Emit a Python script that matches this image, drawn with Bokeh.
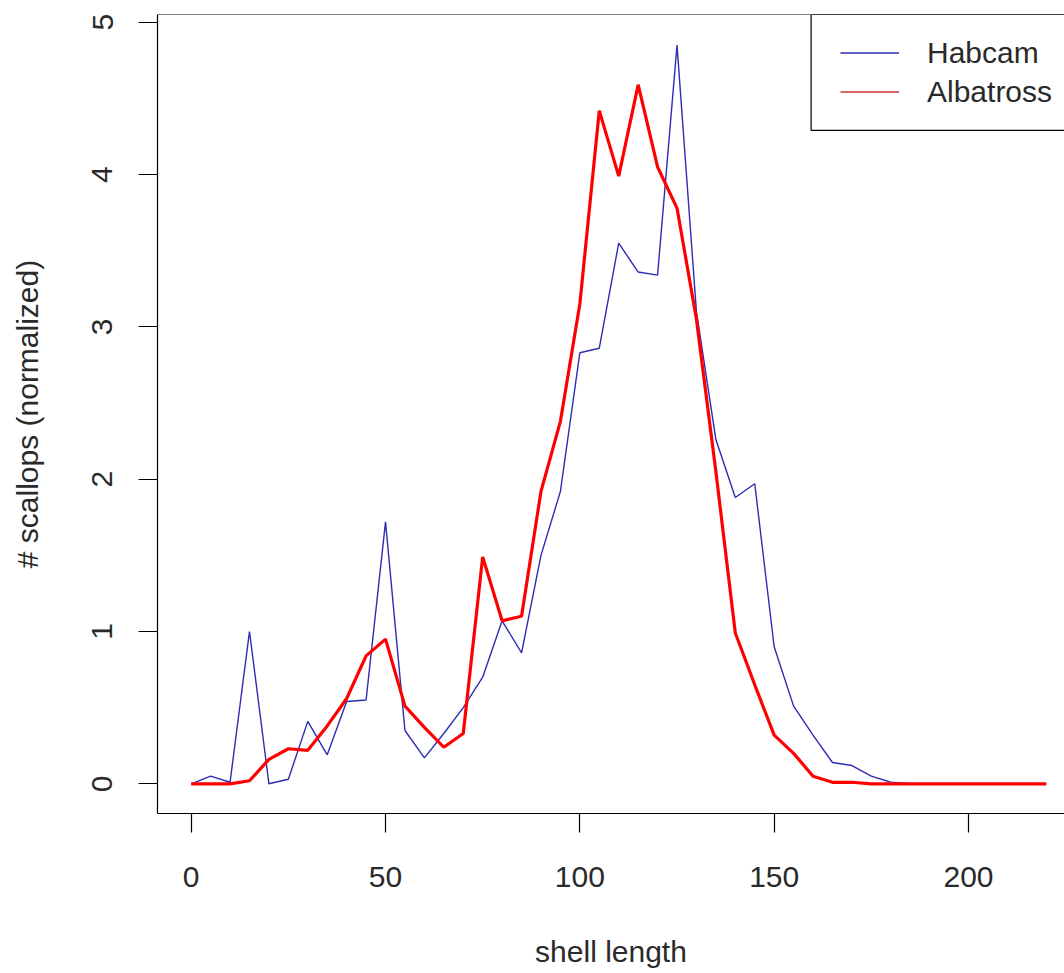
from bokeh.plotting import figure
from bokeh.models import Range1d, Span, BoxAnnotation, Legend, LegendItem, FixedTicker, ColumnDataSource
from bokeh.embed import file_html
from bokeh.resources import INLINE

# ---- data ----
shell_length = list(range(0, 225, 5))
habcam = [0.00, 0.05, 0.01, 1.00, 0.00, 0.03, 0.41, 0.19, 0.54, 0.55,
          1.72, 0.35, 0.17, 0.33, 0.50, 0.70, 1.07, 0.86, 1.50, 1.92,
          2.83, 2.86, 3.55, 3.36, 3.34, 4.85, 3.10, 2.26, 1.88, 1.97,
          0.90, 0.51, 0.32, 0.14, 0.12, 0.05, 0.01, 0.00, 0.00, 0.00,
          0.00, 0.00, 0.00, 0.00, 0.00]
albatross = [0.00, 0.00, 0.00, 0.02, 0.16, 0.23, 0.22, 0.38, 0.56, 0.84,
             0.95, 0.51, 0.37, 0.24, 0.33, 1.49, 1.07, 1.10, 1.92, 2.38,
             3.15, 4.42, 3.99, 4.59, 4.05, 3.78, 3.05, 2.05, 0.99, 0.65,
             0.32, 0.20, 0.05, 0.01, 0.01, 0.00, 0.00, 0.00, 0.00, 0.00,
             0.00, 0.00, 0.00, 0.00, 0.00]
series_names = ["Habcam", "Albatross"]
x_ticks = [0, 50, 100, 150, 200]
y_ticks = [0, 1, 2, 3, 4, 5]

FONT = "Liberation Sans"
BLUE = "#2c2cb4"
RED = "#ff0000"
TEXT = "#2a2a2a"

x0, x1 = -8.67, 224.7
y0, y1 = -0.195, 5.051

p = figure(width=1064, height=973, output_backend="svg", toolbar_location=None,
           x_range=Range1d(x0, x1), y_range=Range1d(y0, y1),
           min_border_left=157, min_border_right=0, min_border_top=14,
           min_border_bottom=160)
p.outline_line_color = None
p.grid.visible = False
p.background_fill_color = "white"
p.border_fill_color = "white"

src = ColumnDataSource(dict(x=shell_length, h=habcam, a=albatross))
p.line("x", "h", source=src, line_color=BLUE, line_width=1.4)
p.line("x", "a", source=src, line_color=RED, line_width=3.2)

# dummy renderers for legend (thin lines as in R legend)
nan = float("nan")
lb = p.line([nan], [nan], line_color=BLUE, line_width=1.6)
lr = p.line([nan], [nan], line_color="#cc3030", line_width=1.6)

for ax in (p.xaxis[0], p.yaxis[0]):
    ax.axis_line_color = "black"
    ax.axis_line_width = 1.2
    ax.major_tick_line_color = "black"
    ax.major_tick_line_width = 1.2
    ax.major_tick_out = 19
    ax.major_tick_in = 0
    ax.minor_tick_out = 0
    ax.minor_tick_in = 0
    ax.major_label_text_font = FONT
    ax.major_label_text_font_size = "30px"
    ax.major_label_text_color = TEXT
    ax.axis_label_text_font = FONT
    ax.axis_label_text_font_size = "30px"
    ax.axis_label_text_font_style = "normal"
    ax.axis_label_text_color = TEXT

p.xaxis[0].ticker = FixedTicker(ticks=x_ticks)
p.yaxis[0].ticker = FixedTicker(ticks=y_ticks)
p.xaxis[0].axis_label = "shell length"
p.yaxis[0].axis_label = "# scallops (normalized)"
p.xaxis[0].major_label_standoff = 34
p.xaxis[0].axis_label_standoff = 45
p.yaxis[0].major_label_orientation = "vertical"
p.yaxis[0].major_label_standoff = 26
p.yaxis[0].axis_label_standoff = 46

# top border of the box
p.add_layout(Span(location=y1, dimension="width", line_color="black",
                  line_alpha=1.0, line_width=1.2))

# legend box
p.add_layout(BoxAnnotation(left=159.5, right=260, top=y1, bottom=4.29,
                           fill_color=None, fill_alpha=0, line_color="black",
                           line_alpha=1.0, line_width=1.2))

legend = Legend(items=[LegendItem(label=series_names[0], renderers=[lb]),
                       LegendItem(label=series_names[1], renderers=[lr])],
                location=(683, 702), padding=0, margin=0, spacing=0,
                glyph_width=59, glyph_height=39, label_height=39, label_standoff=28,
                border_line_color=None, background_fill_alpha=0,
                label_text_font=FONT, label_text_font_size="30px",
                label_text_color=TEXT)
p.add_layout(legend)

open("out.html", "w").write(file_html(p, INLINE))
